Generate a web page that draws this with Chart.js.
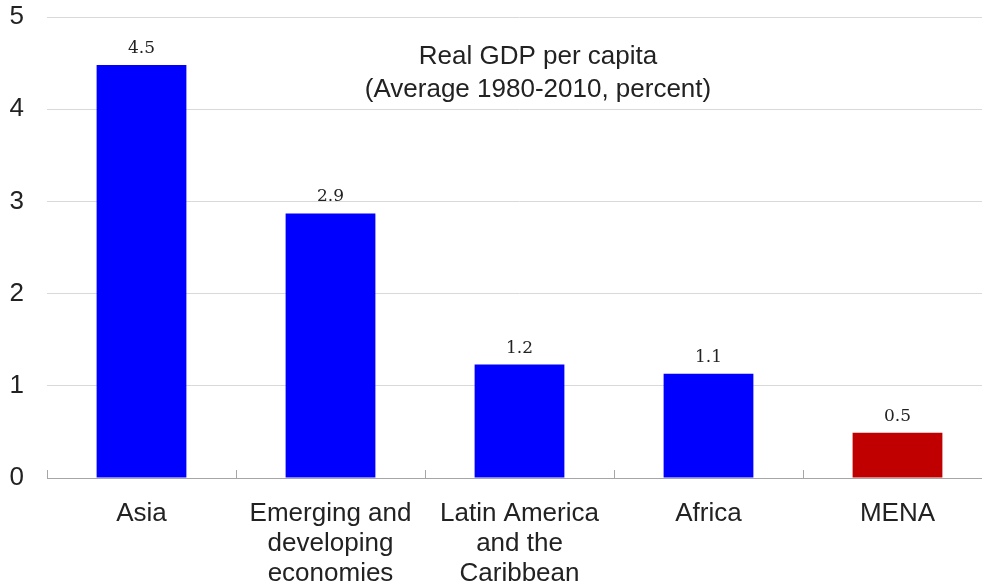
<!DOCTYPE html>
<html><head><meta charset="utf-8">
<script src="https://cdn.jsdelivr.net/npm/chart.js@4/dist/chart.umd.min.js"></script>
<style>html,body{margin:0;padding:0;overflow:hidden;background:#fff;width:982px;height:584px}</style>
</head><body>
<canvas id="c" width="992" height="584"></canvas>
<script>
const categories = [["Asia"], ["Emerging and", "developing", "economies"], ["Latin America", "and the", "Caribbean"], ["Africa"], ["MENA"]];
const values = [4.48, 2.87, 1.23, 1.13, 0.49];
const valueLabels = ["4.5", "2.9", "1.2", "1.1", "0.5"];
const barColors = ["#0000FF", "#0000FF", "#0000FF", "#0000FF", "#C00000"];
const titleLines = ["Real GDP per capita", "(Average 1980-2010, percent)"];
const yTicks = [0, 1, 2, 3, 4, 5];

const SANS = '"Liberation Sans", Arial, sans-serif';

const extras = {
  id: 'extras',
  afterDatasetsDraw(chart) {
    const ctx = chart.ctx;
    const meta = chart.getDatasetMeta(0);
    ctx.save();
    ctx.fillStyle = '#222';
    ctx.font = '17px "DejaVu Serif", "Liberation Serif", serif';
    ctx.textAlign = 'center';
    ctx.textBaseline = 'alphabetic';
    meta.data.forEach((bar, i) => {
      ctx.fillText(valueLabels[i], bar.x, bar.y - 12);
    });
    // inner ticks on x axis at category boundaries
    const xs = chart.scales.x;
    const y0 = chart.scales.y.getPixelForValue(0);
    ctx.strokeStyle = '#a6a6a6';
    ctx.lineWidth = 1;
    for (let i = 0; i <= categories.length; i++) {
      const x = Math.round(xs.left + i * (xs.width / categories.length)) + 0.5;
      ctx.beginPath();
      ctx.moveTo(x, y0);
      ctx.lineTo(x, y0 - 8);
      ctx.stroke();
    }
    // title
    ctx.font = '26px ' + SANS;
    ctx.textBaseline = 'middle';
    ctx.fillStyle = '#222';
    const cx = 538;
    ctx.fillText(titleLines[0], cx, chart.scales.y.getPixelForValue(4.565));
    ctx.fillText(titleLines[1], cx, chart.scales.y.getPixelForValue(4.215));
    ctx.restore();
  }
};

new Chart(document.getElementById('c'), {
  type: 'bar',
  data: {
    labels: categories,
    datasets: [{
      data: values,
      backgroundColor: barColors,
      borderWidth: 0,
      categoryPercentage: 1,
      barPercentage: 0.475
    }]
  },
  options: {
    responsive: false,
    animation: false,
    devicePixelRatio: 1,
    layout: { padding: { top: 17, left: 0, right: 0, bottom: 0 } },
    plugins: { legend: { display: false }, tooltip: { enabled: false } },
    scales: {
      y: {
        min: 0, max: 5,
        afterFit(s) { s.width = 47; s.paddingTop = 0; s.paddingBottom = 0; },
        afterBuildTicks(s) { s.ticks = yTicks.map(v => ({ value: v })); },
        border: { display: false },
        grid: { color: '#d9d9d9', lineWidth: 1, drawTicks: false },
        ticks: { color: '#222', padding: 23, font: { size: 26, family: SANS } }
      },
      x: {
        afterFit(s) { s.height = 106; s.paddingLeft = 0; s.paddingRight = 0; },
        border: { display: true, color: '#a6a6a6', width: 1 },
        grid: { display: false, drawTicks: false },
        ticks: { color: '#222', padding: 21, maxRotation: 0, autoSkip: false,
          font: { size: 26, family: SANS, lineHeight: 1.15 } }
      }
    }
  },
  plugins: [extras]
});
</script>
</body></html>
